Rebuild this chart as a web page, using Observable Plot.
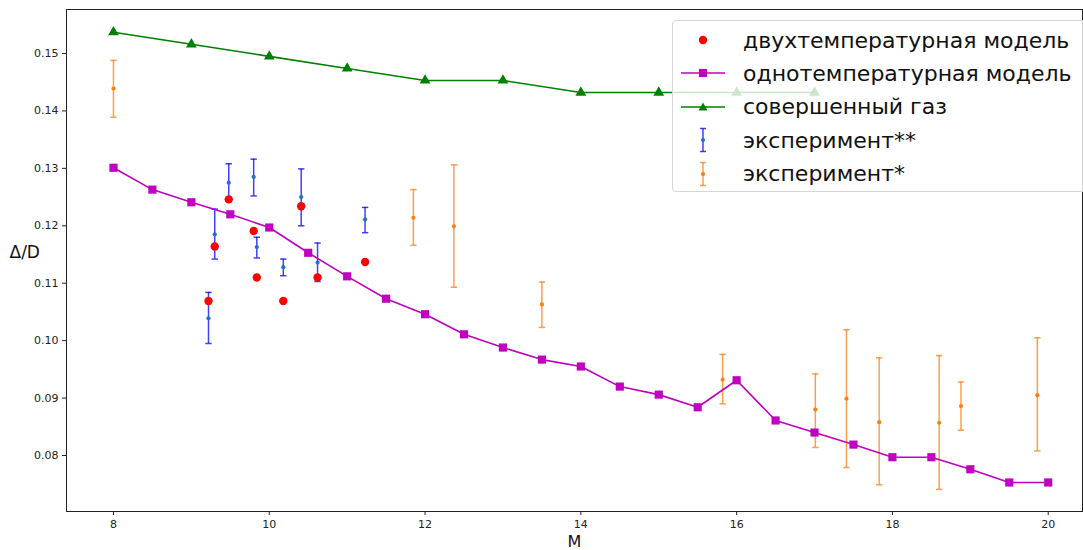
<!DOCTYPE html>
<html>
<head>
<meta charset="utf-8">
<script src="https://cdn.jsdelivr.net/npm/d3@7"></script>
<script src="https://cdn.jsdelivr.net/npm/@observablehq/plot@0.6"></script>
<style>
  body { margin: 0; background: #fff; font-family: "DejaVu Sans", sans-serif; }
  #wrap { position: relative; width: 1083px; height: 550px; overflow: hidden; }
  #legend { position: absolute; left: 672px; top: 20px; width: 430px; height: 172px;
    background: rgba(255,255,255,0.8); border: 1px solid #d6d6d6; border-radius: 4px; box-sizing: border-box; }
  .row { position: absolute; left: 0; height: 34px; display: flex; align-items: center; }
  .row svg { width: 70px; height: 34px; }
  .row span { font-family: "DejaVu Sans", sans-serif; font-size: 22px; color: #111; margin-left: 0px; white-space: nowrap; }
</style>
</head>
<body>
<div id="wrap"><div id="chart"></div><div id="legend"></div></div>
<script>
// ---- data ----
const idealM   = [8, 9, 10, 11, 12, 13, 14, 15, 16, 17];
const idealVal = [0.1537, 0.1516, 0.1495, 0.1474, 0.1453, 0.1453, 0.1432, 0.1432, 0.1432, 0.1432];

const oneTM   = [8, 8.5, 9, 9.5, 10, 10.5, 11, 11.5, 12, 12.5, 13, 13.5, 14, 14.5, 15, 15.5, 16, 16.5, 17, 17.5, 18, 18.5, 19, 19.5, 20];
const oneTVal = [0.1301, 0.1263, 0.1241, 0.1220, 0.1197, 0.1153, 0.1112, 0.1073, 0.1046, 0.1011, 0.0988, 0.0967, 0.0955,
                 0.0920, 0.0906, 0.0884, 0.0931, 0.0861, 0.0840, 0.0819, 0.0797, 0.0797, 0.0776, 0.0753, 0.0753];

const twoTM   = [9.22, 9.30, 9.48, 9.80, 9.84, 10.18, 10.41, 10.62, 11.23];
const twoTVal = [0.1069, 0.1164, 0.1246, 0.1191, 0.1110, 0.1069, 0.1234, 0.1110, 0.1137];

const exp2M   = [9.22, 9.30, 9.48, 9.80, 9.84, 10.18, 10.41, 10.62, 11.23];
const exp2Val = [0.1039, 0.1185, 0.1275, 0.1285, 0.1163, 0.1128, 0.1250, 0.1136, 0.1211];
const exp2Lo  = [0.0995, 0.1142, 0.1243, 0.1252, 0.1144, 0.1113, 0.1200, 0.1103, 0.1188];
const exp2Hi  = [0.1084, 0.1229, 0.1308, 0.1316, 0.1180, 0.1142, 0.1299, 0.1170, 0.1232];

const exp1M   = [8, 11.85, 12.37, 13.5, 15.82, 17.01, 17.41, 17.83, 18.6, 18.88, 19.86];
const exp1Val = [0.1439, 0.1214, 0.1199, 0.1063, 0.0932, 0.0880, 0.0899, 0.0858, 0.0857, 0.0886, 0.0905];
const exp1Lo  = [0.1389, 0.1166, 0.1093, 0.1023, 0.0890, 0.0814, 0.0779, 0.0749, 0.0741, 0.0844, 0.0808];
const exp1Hi  = [0.1488, 0.1263, 0.1306, 0.1102, 0.0976, 0.0942, 0.1019, 0.0970, 0.0974, 0.0928, 0.1005];

const xTicks = [8, 10, 12, 14, 16, 18, 20];
const yTicks = [0.08, 0.09, 0.10, 0.11, 0.12, 0.13, 0.14, 0.15];

const labels = ["двухтемпературная модель", "однотемпературная модель", "совершенный газ", "эксперимент**", "эксперимент*"];

// ---- tables ----
const ideal = idealM.map((m, i) => ({m, v: idealVal[i]}));
const oneT = oneTM.map((m, i) => ({m, v: oneTVal[i]}));
const twoT = twoTM.map((m, i) => ({m, v: twoTVal[i]}));
const exp2 = exp2M.map((m, i) => ({m, v: exp2Val[i], lo: exp2Lo[i], hi: exp2Hi[i]}));
const exp1 = exp1M.map((m, i) => ({m, v: exp1Val[i], lo: exp1Lo[i], hi: exp1Hi[i]}));

const cap = { draw(ctx) { ctx.moveTo(-3.2, 0); ctx.lineTo(3.2, 0); } };

const C_GREEN = "#008000", C_MAG = "#bf00bf", C_RED = "#ff0000";
const C_BLUE_BAR = "#0000ff", C_BLUE_DOT = "#1f77b4", C_OR = "#ff7f0e";

function errMarks(data, barColor, dotColor, op) {
  return [
    Plot.ruleX(data, {x: "m", y1: "lo", y2: "hi", stroke: barColor, strokeWidth: 1.5, strokeOpacity: op}),
    Plot.dot(data, {x: "m", y: "lo", symbol: cap, stroke: barColor, strokeWidth: 1.5, strokeOpacity: op, fill: "none", r: 3}),
    Plot.dot(data, {x: "m", y: "hi", symbol: cap, stroke: barColor, strokeWidth: 1.5, strokeOpacity: op, fill: "none", r: 3}),
    Plot.dot(data, {x: "m", y: "v", fill: dotColor, r: 2.1, stroke: "none"})
  ];
}

const chart = Plot.plot({
  width: 1083, height: 550,
  marginLeft: 66, marginRight: 1, marginTop: 9, marginBottom: 39,
  style: {fontFamily: "DejaVu Sans, sans-serif", background: "white", color: "#222"},
  x: {domain: [7.397, 20.44], label: null},
  y: {domain: [0.07025, 0.15766], label: null},
  marks: [
    Plot.axisX({ticks: xTicks, tickSize: 4, tickPadding: 5, fontSize: 11, tickFormat: d3.format("d"), label: null, stroke: "#222"}),
    Plot.axisY({ticks: yTicks, tickSize: 4, tickPadding: 4, fontSize: 11, tickFormat: d3.format(".2f"), label: null, stroke: "#222"}),
    ...errMarks(exp1, C_OR, C_OR, 0.75),
    ...errMarks(exp2, C_BLUE_BAR, C_BLUE_DOT, 0.75),
    Plot.dot(twoT, {x: "m", y: "v", fill: C_RED, r: 4.2, stroke: "none"}),
    Plot.line(oneT, {x: "m", y: "v", stroke: C_MAG, strokeWidth: 1.6}),
    Plot.dot(oneT, {x: "m", y: "v", symbol: "square", fill: C_MAG, r: 4.6, stroke: "none"}),
    Plot.line(ideal, {x: "m", y: "v", stroke: C_GREEN, strokeWidth: 1.6}),
    Plot.dot(ideal, {x: "m", y: "v", symbol: "triangle", fill: C_GREEN, r: 4.0, stroke: "none"}),
    Plot.frame({stroke: "#222", strokeWidth: 1}),
    Plot.text(["M"], {frameAnchor: "bottom", lineAnchor: "middle", dy: 30, fontSize: 16, fill: "#111"}),
    Plot.text(["Δ/D"], {frameAnchor: "left", textAnchor: "start", lineAnchor: "middle", dx: -57, dy: -8, fontSize: 17, fill: "#111"})
  ]
});
document.getElementById("chart").appendChild(chart);

// ---- legend ----
const err = (c, dc) => `<g stroke="${c}" stroke-opacity="0.75" stroke-width="1.5"><line x1="30" x2="30" y1="5.5" y2="28.5"/><line x1="27" x2="33" y1="5.5" y2="5.5"/><line x1="27" x2="33" y1="28.5" y2="28.5"/></g><circle cx="30" cy="17" r="2.1" fill="${dc}"/>`;
const sym = [
  `<circle cx="30" cy="17" r="4.2" fill="${C_RED}"/>`,
  `<line x1="8" x2="52" y1="17" y2="17" stroke="${C_MAG}" stroke-width="1.6"/><rect x="26" y="13" width="8" height="8" fill="${C_MAG}"/>`,
  `<line x1="8" x2="52" y1="17" y2="17" stroke="${C_GREEN}" stroke-width="1.6"/><path d="M30,12.5 L34.5,20.5 L25.5,20.5 Z" fill="${C_GREEN}"/>`,
  err(C_BLUE_BAR, C_BLUE_DOT),
  err(C_OR, C_OR)
];
const leg = document.getElementById("legend");
labels.forEach((t, i) => {
  const row = document.createElement("div");
  row.className = "row";
  row.style.top = (2 + i * 33.4) + "px";
  row.innerHTML = `<svg viewBox="0 0 70 34">${sym[i]}</svg><span>${t}</span>`;
  leg.appendChild(row);
});
</script>
</body>
</html>
